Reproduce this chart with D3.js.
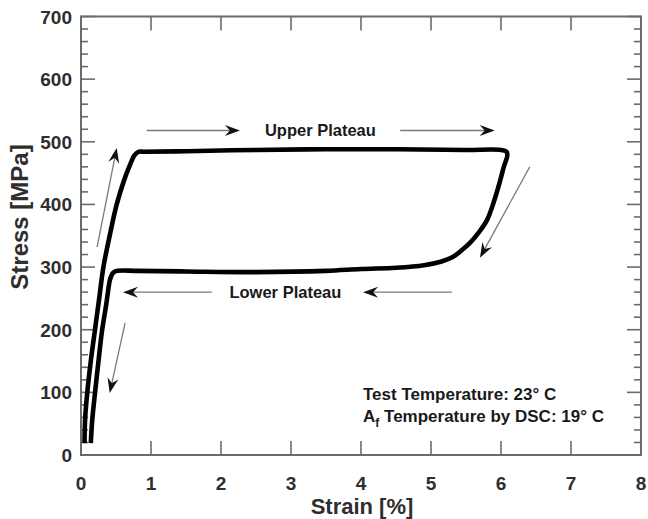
<!DOCTYPE html>
<html><head><meta charset="utf-8">
<script src="https://cdn.jsdelivr.net/npm/d3@7"></script>
<style>
html,body{margin:0;padding:0;background:#fff;}
text{font-family:"Liberation Sans",Arial,sans-serif;font-weight:bold;}
</style></head>
<body><svg id="chart" width="648" height="519"></svg>
<script>
// ---- data ----
const xTicks = [0,1,2,3,4,5,6,7,8];
const yTicks = [0,100,200,300,400,500,600,700];
const yMinorTicks = d3.range(0,701,20);

// loading branch (strain %, stress MPa) up to end of upper plateau
const loadStrain = [0.05,0.06,0.09,0.14,0.20,0.26,0.32,0.41,0.51,0.62,0.70,0.76,0.82,0.90,1.5,2.5,3.5,4.5,5.5,6.0,6.08];
const loadStress = [19,60,100,150,200,250,300,350,400,440,463,478,484,484,485,487,488,488,487,487,484];
// unloading branch
const unloadStrain = [6.09,6.04,5.99,5.90,5.80,5.68,5.56,5.43,5.31,5.15,4.9,4.5,4.0,3.5,2.5,1.5,0.8,0.52,0.46,0.43,0.41,0.36,0.30,0.25,0.20,0.16,0.14];
const unloadStress = [478,460,439,405,375,355,339,326,316,309,303,299,297,294,292,293,294,294,291,285,278,240,198,150,99,55,19];

// annotation arrows: tail -> tip in data units
const arrowX1 = [0.23,0.63,0.94,4.56,1.87,5.30,6.41];
const arrowY1 = [332,211,518,518,260,260,460];
const arrowX2 = [0.51,0.41,2.27,5.91,0.60,4.03,5.70];
const arrowY2 = [490,99,518,518,260,260,315];

const labels = ["Upper Plateau","Lower Plateau"];
const labelX = [3.42,2.92];
const labelY = [509,251];

// ---- layout ----
const svg = d3.select("#chart");
const x = d3.scaleLinear().domain([0,8]).range([81,641]);
const y = d3.scaleLinear().domain([0,700]).range([455,16.5]);
const frameColor = "#6b6b6b";
const textColor = "#2e2e2e";

const g = svg.append("g");

// minor y ticks (left & right)
g.selectAll(".yminL").data(yMinorTicks).enter().append("line")
  .attr("x1",x(0)).attr("x2",d=> x(0)+(d%100===0?14:7))
  .attr("y1",d=>y(d)).attr("y2",d=>y(d))
  .attr("stroke",frameColor).attr("stroke-width",1.6);
g.selectAll(".yminR").data(yMinorTicks).enter().append("line")
  .attr("x1",x(8)).attr("x2",d=> x(8)-(d%100===0?14:7))
  .attr("y1",d=>y(d)).attr("y2",d=>y(d))
  .attr("stroke",frameColor).attr("stroke-width",1.6);
// x ticks bottom & top
g.selectAll(".xtB").data(xTicks).enter().append("line")
  .attr("x1",d=>x(d)).attr("x2",d=>x(d))
  .attr("y1",y(0)).attr("y2",y(0)-14)
  .attr("stroke",frameColor).attr("stroke-width",1.6);
g.selectAll(".xtT").data(xTicks).enter().append("line")
  .attr("x1",d=>x(d)).attr("x2",d=>x(d))
  .attr("y1",y(700)).attr("y2",y(700)+14)
  .attr("stroke",frameColor).attr("stroke-width",1.6);
// frame
g.append("rect").attr("x",x(0)).attr("y",y(700))
  .attr("width",x(8)-x(0)).attr("height",y(0)-y(700))
  .attr("fill","none").attr("stroke",frameColor).attr("stroke-width",2);

// tick labels
g.selectAll(".xl").data(xTicks).enter().append("text")
  .attr("x",d=>x(d)).attr("y",490).attr("text-anchor","middle")
  .attr("font-size",19).attr("fill",textColor).text(d=>d);
g.selectAll(".yl").data(yTicks).enter().append("text")
  .attr("x",72).attr("y",d=>y(d)+7).attr("text-anchor","end")
  .attr("font-size",19).attr("fill",textColor).text(d=>d);

// axis titles
g.append("text").attr("x",362).attr("y",514).attr("text-anchor","middle")
  .attr("font-size",22).attr("fill",textColor).text("Strain [%]");
g.append("text").attr("transform","translate(28,217) rotate(-90)")
  .attr("text-anchor","middle").attr("font-size",24).attr("fill",textColor).text("Stress [MPa]");

// arrows
const arrows = arrowX1.map((d,i)=>({x1:x(d),y1:y(arrowY1[i]),x2:x(arrowX2[i]),y2:y(arrowY2[i])}));
const ag = g.append("g");
arrows.forEach(a=>{
  const ang = Math.atan2(a.y2-a.y1,a.x2-a.x1);
  ag.append("line").attr("x1",a.x1).attr("y1",a.y1)
    .attr("x2",a.x2-8*Math.cos(ang)).attr("y2",a.y2-8*Math.sin(ang))
    .attr("stroke","#7a7a7a").attr("stroke-width",1.3);
  ag.append("path")
    .attr("d","M0,0 L-15,-5.5 L-10,0 L-15,5.5 Z")
    .attr("transform",`translate(${a.x2},${a.y2}) rotate(${ang*180/Math.PI})`)
    .attr("fill","#111");
});

// curves
const line = d3.line().x(d=>x(d[0])).y(d=>y(d[1])).curve(d3.curveCatmullRom.alpha(0.5));
const loadPts = loadStrain.map((d,i)=>[d,loadStress[i]]);
const unloadPts = unloadStrain.map((d,i)=>[d,unloadStress[i]]);
g.append("path").attr("d",line(loadPts.concat(unloadPts)))
  .attr("fill","none").attr("stroke","#000").attr("stroke-width",4.6)
  .attr("stroke-linejoin","round").attr("stroke-linecap","butt");

// plateau labels
g.selectAll(".pl").data(labels).enter().append("text")
  .attr("x",(d,i)=>x(labelX[i])).attr("y",(d,i)=>y(labelY[i]))
  .attr("text-anchor","middle").attr("font-size",16.5).attr("fill","#1a1a1a").text(d=>d);

// temperature notes
g.append("text").attr("x",363).attr("y",400).attr("font-size",17).attr("fill","#1a1a1a")
  .text("Test Temperature: 23° C");
const t2 = g.append("text").attr("x",363).attr("y",421.5).attr("font-size",17).attr("fill","#1a1a1a");
t2.append("tspan").text("A");
t2.append("tspan").attr("dy",5).attr("font-size",12).text("f");
t2.append("tspan").attr("dy",-5).text(" Temperature by DSC: 19° C");
</script></body></html>
